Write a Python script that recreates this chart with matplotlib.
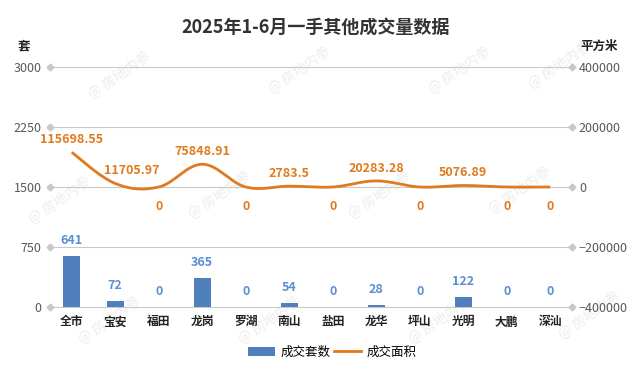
import numpy as np
import matplotlib
matplotlib.use("Agg")
import matplotlib.pyplot as plt
from matplotlib.patches import Patch
from matplotlib.lines import Line2D

plt.rcParams['font.family'] = ['Noto Sans CJK SC', 'DejaVu Sans']

districts = ['全市', '宝安', '福田', '龙岗', '罗湖', '南山', '盐田', '龙华', '坪山', '光明', '大鹏', '深汕']
units = [641, 72, 0, 365, 0, 54, 0, 28, 0, 122, 0, 0]
area = [115698.55, 11705.97, 0, 75848.91, 0, 2783.5, 0, 20283.28, 0, 5076.89, 0, 0]
area_txt = ['115698.55', '11705.97', '0', '75848.91', '0', '2783.5', '0', '20283.28', '0', '5076.89', '0', '0']
left_ticks = [0, 750, 1500, 2250, 3000]
right_ticks = [-400000, -200000, 0, 200000, 400000]

bar_c = '#4F7FBC'
bar_lbl = '#5B8FD3'
line_c = '#E07A1F'
grid_c = '#C9C9C9'
tick_c = '#595959'


def smooth_curve(x, y, k=0.18, n=30):
    # bezier through the points, control points from neighbours
    x = np.asarray(x, float)
    y = np.asarray(y, float)
    px, py = [], []
    for i in range(len(x) - 1):
        p0 = np.array([x[i], y[i]])
        p1 = np.array([x[i + 1], y[i + 1]])
        prev = np.array([x[i - 1], y[i - 1]]) if i > 0 else p0
        nxt = np.array([x[i + 2], y[i + 2]]) if i + 2 < len(x) else p1
        c1 = p0 + (p1 - prev) * k
        c2 = p1 - (nxt - p0) * k
        t = np.linspace(0, 1, n)[:, None]
        seg = (1 - t) ** 3 * p0 + 3 * (1 - t) ** 2 * t * c1 + 3 * (1 - t) * t ** 2 * c2 + t ** 3 * p1
        px.extend(seg[:, 0])
        py.extend(seg[:, 1])
    return np.array(px), np.array(py)


fig = plt.figure(figsize=(6.32, 3.78), dpi=100)
ax = fig.add_axes([50 / 632, 1 - 307 / 378, 522 / 632, 240 / 378])
ax2 = ax.twinx()
ax.patch.set_alpha(0)

xs = np.arange(len(districts))
for g in left_ticks:
    ax.axhline(g, color=grid_c, linewidth=0.8, zorder=1, clip_on=False)
ax.bar(xs, units, width=0.4, color=bar_c, zorder=2)
ax.set_xlim(-0.5, len(districts) - 0.5)
ax.set_ylim(0, 3000)
ax.set_yticks(left_ticks)
ax.set_xticks(xs)
ax.set_xticklabels(districts, fontsize=8.5, fontweight='bold', color='#222222')
ax.tick_params(axis='x', length=0, pad=6)
ax.tick_params(axis='y', length=0, pad=6, labelsize=9, labelcolor=tick_c)
for s in ax.spines.values():
    s.set_visible(False)

for x, v in zip(xs, units):
    ax.annotate(str(v), (x, v), xytext=(0, 11), textcoords='offset points',
                ha='center', va='center', fontsize=9, fontweight='bold', color=bar_lbl)

lx, ly = smooth_curve(xs, area)
ax2.plot(lx, ly, color=line_c, linewidth=2.0, zorder=3, solid_capstyle='butt')
ax2.set_ylim(-400000, 400000)
ax2.set_yticks(right_ticks)
ax2.tick_params(axis='y', length=0, pad=5, labelsize=9, labelcolor=tick_c)
for s in ax2.spines.values():
    s.set_visible(False)

for i, (x, v, t) in enumerate(zip(xs, area, area_txt)):
    if v > 0:
        dx = 12 if i == 1 else 0  # label pushed right in the source
        ax2.annotate(t, (x, v), xytext=(dx, 9), textcoords='offset points',
                     ha='center', va='center', fontsize=9, fontweight='bold', color=line_c)
    else:
        ax2.annotate(t, (x, v), xytext=(0, -14), textcoords='offset points',
                     ha='center', va='center', fontsize=9, fontweight='bold', color=line_c)

# diamond tick markers on both sides
ax.plot([0] * 5, left_ticks, 'D', color='#C8C8C8', markersize=3.5,
        transform=ax.get_yaxis_transform(), clip_on=False, zorder=4)
ax2.plot([1] * 5, right_ticks, 'D', color='#C8C8C8', markersize=3.5,
         transform=ax2.get_yaxis_transform(), clip_on=False, zorder=4)

fig.text(0.5, 1 - 27 / 378, '2025年1-6月一手其他成交量数据', ha='center', va='center',
         fontsize=13, fontweight='bold', color='#333333')
fig.text(18 / 632, 1 - 46 / 378, '套', ha='left', va='center', fontsize=9,
         fontweight='bold', color='#222222')
fig.text(580 / 632, 1 - 46 / 378, '平方米', ha='left', va='center', fontsize=9,
         fontweight='bold', color='#222222')

# faint watermark
for wx, wy in [(120, 75), (300, 70), (460, 70), (560, 65), (60, 200), (220, 195), (380, 195),
               (520, 190), (110, 320), (270, 320), (440, 320), (590, 315)]:
    fig.text(wx / 632, 1 - wy / 378, '@ 房地内参', rotation=35, ha='center', va='center',
             fontsize=10, color='#EDEDED', zorder=-1)

handles = [Patch(facecolor=bar_c), Line2D([0], [0], color=line_c, linewidth=2.0)]
fig.legend(handles, ['成交套数', '成交面积'], loc='center', bbox_to_anchor=(332 / 632, 1 - 352 / 378),
           ncol=2, frameon=False, fontsize=9, handlelength=2.2, handleheight=0.7,
           columnspacing=0.3, handletextpad=0.4)

fig.savefig('out.png', dpi=100)
